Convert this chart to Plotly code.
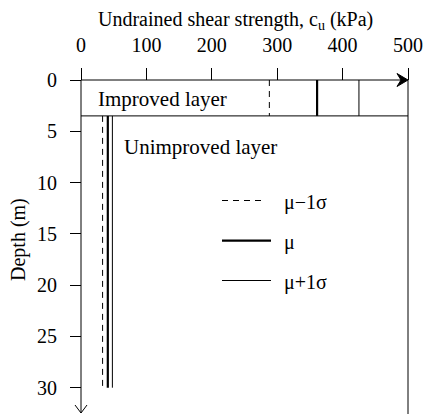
import plotly.graph_objects as go

# Soil profile: undrained shear strength statistics per layer
layer_names = ["Improved layer", "Unimproved layer"]
layer_top = [0.0, 3.5]        # m
layer_bottom = [3.5, 30.0]    # m
cu_mu_minus = [288, 33]       # kPa, mean minus one standard deviation
cu_mu = [361, 41]             # kPa, mean
cu_mu_plus = [425, 48]        # kPa, mean plus one standard deviation

x_ticks = [0, 100, 200, 300, 400, 500]
y_ticks = [0, 5, 10, 15, 20, 25, 30]

series_names = ["\u03bc\u22121\u03c3", "\u03bc", "\u03bc+1\u03c3"]

FONT = "Liberation Serif, monospace"
FS = 20

# canvas geometry
W, H = 423, 414
ML, MR, MT, MB = 66, 5, 66, 0
PW, PH = W - ML - MR, H - MT - MB
X_MAX = 500.0
KX = 327.0 / X_MAX          # px per kPa
KY = 307.7 / 30.0           # px per m
X0_PX, Y0_PX = 81.0, 80.0   # pixel position of (0 kPa, 0 m)

x_range = [(ML - X0_PX) / KX, (W - MR - X0_PX) / KX]
y_range = [(H - MB - Y0_PX) / KY, (MT - Y0_PX) / KY]


def px_to_paper_x(px):
    return (px - ML) / PW


def px_to_paper_y(py):
    return (H - MB - py) / PH


def step_profile(values):
    xs, ys = [], []
    for v, top, bot in zip(values, layer_top, layer_bottom):
        xs += [v, v, None]
        ys += [top, bot, None]
    return xs, ys


def txt(size=FS):
    return dict(family=FONT, size=size, color="black")


styles = [
    dict(color="black", width=1, dash="6px,5px"),
    dict(color="black", width=2.2),
    dict(color="black", width=1),
]

fig = go.Figure()
for vals, name, st in zip([cu_mu_minus, cu_mu, cu_mu_plus], series_names, styles):
    xs, ys = step_profile(vals)
    fig.add_trace(go.Scatter(x=xs, y=ys, mode="lines", line=st, name=name,
                             showlegend=False, hoverinfo="skip"))

shapes = []
# depth axis with open arrowhead at the bottom
y_tip = (413 - Y0_PX) / KY
shapes.append(dict(type="line", x0=0, x1=0, y0=0, y1=y_tip,
                   line=dict(color="black", width=1)))
ax_w = 6 / KX
ax_h = 8 / KY
shapes.append(dict(type="path", path=f"M {-ax_w},{y_tip - ax_h} L 0,{y_tip} L {ax_w},{y_tip - ax_h}",
                   line=dict(color="black", width=1)))
# strength axis with filled arrowhead at the right
shapes.append(dict(type="line", x0=0, x1=X_MAX - 2 / KX, y0=0, y1=0,
                   line=dict(color="black", width=1)))
ah_len = 11 / KX
ah_notch = 7 / KX
ah_half = 6.5 / KY
shapes.append(dict(type="path",
                   path=(f"M {X_MAX},0 L {X_MAX - ah_len},{-ah_half} "
                         f"L {X_MAX - ah_notch},0 L {X_MAX - ah_len},{ah_half} Z"),
                   fillcolor="black", line=dict(color="black", width=1)))
# right border and layer boundary
shapes.append(dict(type="line", x0=X_MAX, x1=X_MAX, y0=0, y1=y_range[0],
                   line=dict(color="black", width=1)))
shapes.append(dict(type="line", x0=0, x1=X_MAX, y0=layer_bottom[0], y1=layer_bottom[0],
                   line=dict(color="black", width=1)))

# legend keys
leg_x0 = (222 - X0_PX) / KX
leg_ends = [(263 - X0_PX) / KX, (271 - X0_PX) / KX, (271 - X0_PX) / KX]
leg_y = [(200.5 - Y0_PX) / KY, (240.7 - Y0_PX) / KY, (280.5 - Y0_PX) / KY]
leg_text_x = (282 - X0_PX) / KX
for st, x1, y in zip(styles, leg_ends, leg_y):
    shapes.append(dict(type="line", x0=leg_x0, x1=x1, y0=y, y1=y, line=st))

annotations = []
for name, y in zip(series_names, leg_y):
    annotations.append(dict(x=leg_text_x, y=y + 0.15, xref="x", yref="y", text=name,
                            showarrow=False, xanchor="left", yanchor="middle",
                            font=txt(20)))

annotations.append(dict(x=(96 - X0_PX) / KX, y=(99 - Y0_PX) / KY, xref="x", yref="y",
                        text=layer_names[0], showarrow=False, xanchor="left",
                        yanchor="middle", font=txt(21)))
annotations.append(dict(x=(122 - X0_PX) / KX, y=(147 - Y0_PX) / KY, xref="x", yref="y",
                        text=layer_names[1], showarrow=False, xanchor="left",
                        yanchor="middle", font=txt(21)))

# axis titles
annotations.append(dict(x=px_to_paper_x(235), y=px_to_paper_y(21), xref="paper", yref="paper",
                        text="Undrained shear strength, c<sub>u</sub> (kPa)", showarrow=False,
                        xanchor="center", yanchor="middle", font=txt(20)))
annotations.append(dict(x=px_to_paper_x(18), y=px_to_paper_y(240), xref="paper", yref="paper",
                        text="Depth (m)", showarrow=False, textangle=-90,
                        xanchor="center", yanchor="middle", font=txt(20)))

fig.update_layout(
    width=W, height=H,
    margin=dict(l=ML, r=MR, t=MT, b=MB, pad=0),
    paper_bgcolor="white", plot_bgcolor="white",
    showlegend=False,
    shapes=shapes,
    annotations=annotations,
    xaxis=dict(range=x_range, side="top", anchor="free",
               position=px_to_paper_y(Y0_PX),
               tickvals=x_ticks, ticktext=[str(v) for v in x_ticks],
               ticks="outside", ticklen=12, tickwidth=1, tickcolor="black",
               ticklabelstandoff=8,
               showline=False, showgrid=False, zeroline=False,
               tickfont=txt(20)),
    yaxis=dict(range=y_range, anchor="free",
               position=px_to_paper_x(X0_PX),
               tickvals=y_ticks, ticktext=[str(v) for v in y_ticks],
               ticks="outside", ticklen=11, tickwidth=1, tickcolor="black",
               ticklabelstandoff=9,
               showline=False, showgrid=False, zeroline=False,
               tickfont=txt(20)),
)

fig.write_html("out.html")
